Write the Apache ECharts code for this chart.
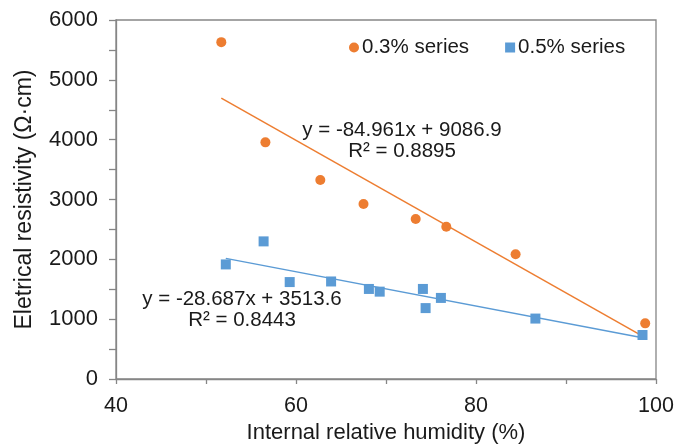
<!DOCTYPE html>
<html>
<head>
<meta charset="utf-8">
<script src="https://cdn.jsdelivr.net/npm/echarts@6/dist/echarts.min.js"></script>
<style>html,body{margin:0;padding:0;background:#fff}#c{width:675px;height:446px}</style>
</head>
<body>
<div id="c"></div>
<script>
// Data
var x03 = [51.7, 56.6, 62.7, 67.5, 73.3, 76.7, 84.4, 98.8];
var y03 = [5630, 3955, 3325, 2925, 2675, 2545, 2085, 930];
var x05 = [52.2, 56.4, 59.3, 63.9, 68.1, 69.3, 74.1, 74.4, 76.1, 86.6, 98.5];
var y05 = [1915, 2300, 1620, 1630, 1505, 1460, 1505, 1185, 1355, 1010, 735];
var trend03 = [-84.961, 9086.9];   // slope, intercept
var trend05 = [-28.687, 3513.6];
var eq03 = ['y = -84.961x + 9086.9', 'R² = 0.8895'];
var eq05 = ['y = -28.687x + 3513.6', 'R² = 0.8443'];
var seriesNames = ['0.3% series', '0.5% series'];
var xTitle = 'Internal relative humidity (%)';
var yTitle = 'Eletrical resistivity (Ω·cm)';

var ORANGE = '#ED7D31', BLUE = '#5B9BD5', AXIS = '#868686', TXT = '#1a1a1a';
var FONT = "'Liberation Sans', Arial, sans-serif";

function pts(xs, ys){ return xs.map(function(v,i){ return [v, ys[i]]; }); }
function trend(xs, c){
  var lo = Math.min.apply(null, xs), hi = Math.max.apply(null, xs);
  return [[lo, c[0]*lo + c[1]], [hi, c[0]*hi + c[1]]];
}

var chart = echarts.init(document.getElementById('c'), null, {renderer:'canvas'});
var option = {
  animation: false,
  backgroundColor: '#fff',
  textStyle: {fontFamily: FONT},
  grid: {left: 116, right: 19, top: 20, bottom: 67, containLabel: false, outerBoundsMode: 'none',
         show: true, borderColor: AXIS, borderWidth: 1.3},
  legend: {
    data: [{name: seriesNames[0], icon: 'circle'}, {name: seriesNames[1], icon: 'rect'}],
    left: 344, top: 32, itemWidth: 10, itemHeight: 10, itemGap: 36,
    textStyle: {fontFamily: FONT, fontSize: 20.5, color: TXT, padding: [0,0,0,-2]}
  },
  xAxis: {
    type: 'value', min: 40, max: 100, interval: 10,
    name: xTitle, nameLocation: 'middle', nameGap: 42,
    nameTextStyle: {fontFamily: FONT, fontSize: 22, color: TXT},
    axisLine: {lineStyle: {color: AXIS, width: 1.3}},
    axisTick: {show: true, length: 5, lineStyle: {color: AXIS, width: 1.3}},
    axisLabel: {fontFamily: FONT, fontSize: 21.5, color: TXT, margin: 16,
      formatter: function(v){ return v % 20 === 0 ? String(v) : ''; }},
    splitLine: {show: false}
  },
  yAxis: {
    type: 'value', min: 0, max: 6000, interval: 500,
    name: yTitle, nameLocation: 'middle', nameGap: 80, nameRotate: 90,
    nameTextStyle: {fontFamily: FONT, fontSize: 23, color: TXT},
    axisLine: {show: true, lineStyle: {color: AXIS, width: 1.3}},
    axisTick: {show: true, length: 7, lineStyle: {color: AXIS, width: 1.3}},
    axisLabel: {fontFamily: FONT, fontSize: 22, color: TXT, margin: 18,
      formatter: function(v){ return v % 1000 === 0 ? String(v) : ''; }},
    splitLine: {show: false}
  },
  series: [
    {name: seriesNames[0] + ' trend', type: 'line', data: trend(x03, trend03), symbol: 'none',
     lineStyle: {color: ORANGE, width: 1.5}, z: 2, silent: true},
    {name: seriesNames[1] + ' trend', type: 'line', data: trend(x05, trend05), symbol: 'none',
     lineStyle: {color: BLUE, width: 1.5}, z: 2, silent: true},
    {name: seriesNames[0], type: 'scatter', data: pts(x03, y03), symbol: 'circle', symbolSize: 10,
     itemStyle: {color: ORANGE, opacity: 1}, z: 3},
    {name: seriesNames[1], type: 'scatter', data: pts(x05, y05), symbol: 'rect', symbolSize: 10,
     itemStyle: {color: BLUE, opacity: 1}, z: 3}
  ],
  graphic: [
    {type: 'text', x: 402, y: 130, style: {text: eq03[0], font: '20.5px ' + FONT, fill: TXT, align: 'center', verticalAlign: 'middle'}},
    {type: 'text', x: 402, y: 151, style: {text: eq03[1], font: '20.5px ' + FONT, fill: TXT, align: 'center', verticalAlign: 'middle'}},
    {type: 'text', x: 242, y: 299, style: {text: eq05[0], font: '20.5px ' + FONT, fill: TXT, align: 'center', verticalAlign: 'middle'}},
    {type: 'text', x: 242, y: 320, style: {text: eq05[1], font: '20.5px ' + FONT, fill: TXT, align: 'center', verticalAlign: 'middle'}}
  ]
};
chart.setOption(option);
</script>
</body>
</html>
